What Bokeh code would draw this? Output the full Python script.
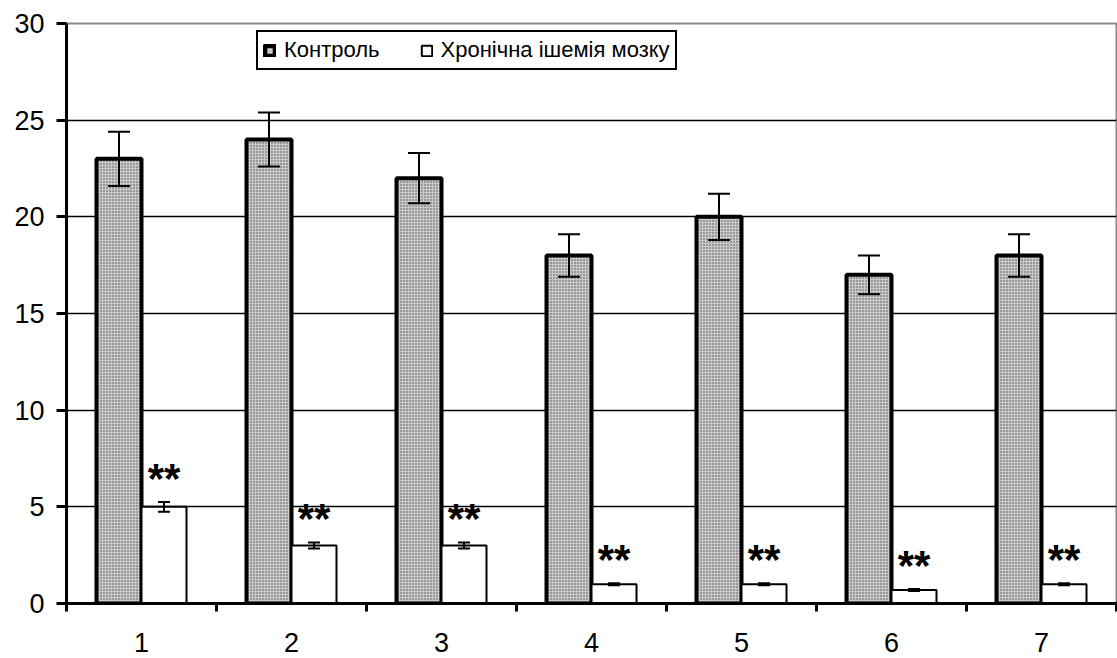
from bokeh.plotting import figure
from bokeh.models import ColumnDataSource, FixedTicker, Whisker, Legend, LegendItem
from bokeh.embed import file_html
from bokeh.resources import INLINE
from bokeh.core.properties import value

categories = ["1", "2", "3", "4", "5", "6", "7"]
control = [23, 24, 22, 18, 20, 17, 18]
control_err = [1.4, 1.4, 1.3, 1.1, 1.2, 1.0, 1.1]
ischemia = [5, 3, 3, 1, 1, 0.7, 1]
ischemia_err = [0.25, 0.15, 0.15, 0.05, 0.05, 0.05, 0.05]
marks = ["**"] * 7
series_names = ["Контроль", "Хронічна ішемія мозку"]
y_ticks = [0, 5, 10, 15, 20, 25, 30]

xs = list(range(1, len(categories) + 1))
bw = 0.3
src_c = ColumnDataSource(dict(
    x=[x - 0.15 for x in xs], top=control,
    lo=[v - e for v, e in zip(control, control_err)],
    hi=[v + e for v, e in zip(control, control_err)]))
src_i = ColumnDataSource(dict(
    x=[x + 0.15 for x in xs], top=ischemia,
    lo=[v - e for v, e in zip(ischemia, ischemia_err)],
    hi=[v + e for v, e in zip(ischemia, ischemia_err)],
    mark=marks))

p = figure(width=1117, height=664, x_range=(0.5, 7.5), y_range=(0, 30),
           output_backend="svg", toolbar_location=None,
           min_border_left=66, min_border_right=1, min_border_top=23, min_border_bottom=61)
p.background_fill_color = "white"
p.outline_line_color = "#888888"
p.outline_line_width = 2

p.xgrid.grid_line_color = None
p.ygrid.ticker = FixedTicker(ticks=[5, 10, 15, 20, 25])
p.ygrid.grid_line_color = "black"
p.ygrid.grid_line_width = 1.5

r_c = p.vbar(x="x", top="top", width=bw, source=src_c, fill_color="#cacaca",
             hatch_pattern="dot", hatch_scale=3, hatch_weight=1.3, hatch_color="#4a4a4a",
             line_color="black", line_width=4)
r_i = p.vbar(x="x", top="top", width=bw, source=src_i, fill_color="white",
             line_color="black", line_width=2)

# legend-only glyphs (placed far outside the visible range)
leg_c = p.vbar(x=[50], top=[-50], bottom=[-51], width=bw, fill_color="#cccccc",
               line_color="black", line_width=5)
leg_i = p.vbar(x=[50], top=[-50], bottom=[-51], width=bw, fill_color="white",
               line_color="black", line_width=2)

for src, head in ((src_c, 22), (src_i, 12)):
    w = Whisker(base="x", lower="lo", upper="hi", source=src, line_width=2,
                line_color="black", level="overlay")
    w.upper_head.size = head
    w.lower_head.size = head
    w.upper_head.line_width = 2
    w.lower_head.line_width = 2
    p.add_layout(w)

p.text(x="x", y="hi", text="mark", source=src_i, text_align="center",
       text_baseline="alphabetic", y_offset=-24, text_font=value("Liberation Sans"),
       text_font_style="bold", text_font_size="42px", text_color="black")

p.xaxis.ticker = FixedTicker(ticks=xs, minor_ticks=[x + 0.5 for x in range(0, 8)])
p.xaxis.major_label_overrides = {x: c for x, c in zip(xs, categories)}
p.xaxis.major_tick_line_color = None
p.xaxis.minor_tick_line_color = "black"
p.xaxis.minor_tick_line_width = 3
p.xaxis.minor_tick_in = 0
p.xaxis.minor_tick_out = 8
p.xaxis.axis_line_width = 3
p.xaxis.axis_line_color = "black"
p.xaxis.major_label_standoff = 21
p.xaxis.major_label_text_font = "Liberation Sans"
p.xaxis.major_label_text_font_size = "27px"
p.xaxis.major_label_text_color = "black"

p.yaxis.ticker = FixedTicker(ticks=y_ticks)
p.yaxis.minor_tick_line_color = None
p.yaxis.major_tick_line_width = 3
p.yaxis.major_tick_in = 0
p.yaxis.major_tick_out = 10
p.yaxis.axis_line_width = 3
p.yaxis.axis_line_color = "black"
p.yaxis.major_label_standoff = 12
p.yaxis.major_label_text_font = "Liberation Sans"
p.yaxis.major_label_text_font_size = "27px"
p.yaxis.major_label_text_color = "black"

legend = Legend(items=[LegendItem(label=series_names[0], renderers=[leg_c]),
                       LegendItem(label=series_names[1], renderers=[leg_i])],
                location=(190, 533), orientation="horizontal")
legend.label_text_font = "Liberation Sans"
legend.label_text_font_size = "22px"
legend.label_text_color = "black"
legend.label_height = 24
legend.glyph_width = 13
legend.glyph_height = 13
legend.label_standoff = 8
legend.spacing = 40
legend.padding = 5
legend.margin = 0
legend.border_line_color = "black"
legend.border_line_alpha = 1
legend.border_line_width = 2
legend.background_fill_alpha = 1
p.add_layout(legend)

open("out.html", "w").write(file_html(p, INLINE))
